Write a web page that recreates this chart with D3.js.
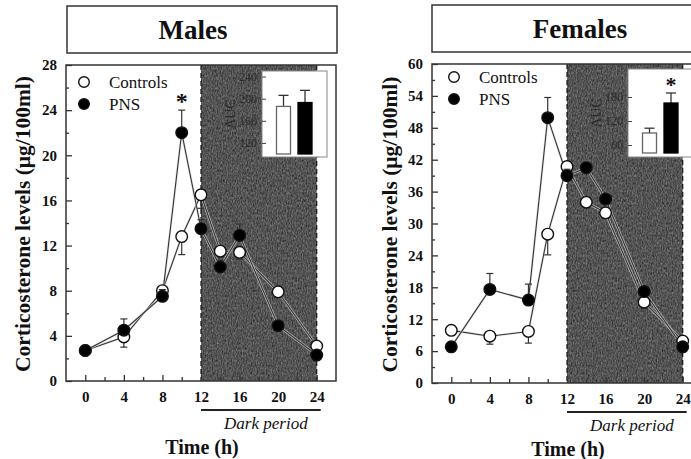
<!DOCTYPE html>
<html>
<head>
<meta charset="utf-8">
<script src="https://cdn.jsdelivr.net/npm/d3@7"></script>
<style>
  html, body { margin: 0; padding: 0; background: #fff; }
  svg { display: block; }
</style>
</head>
<body>
<svg id="chart" width="691" height="459"></svg>
<script>
// Sampling times (hours after lights on)
const hours = [0, 4, 8, 10, 12, 14, 16, 20, 24];

// Males: mean corticosterone (µg/100ml) and SEM
const maleControls    = [2.7, 3.9, 8.0, 12.8, 16.5, 11.5, 11.4, 7.9, 3.1];
const maleControlsSem = [0.4, 0.9, 0.5, 1.6, 1.2, 0.5, 0.6, 0.4, 0.3];
const malePNS         = [2.7, 4.5, 7.5, 22.0, 13.5, 10.1, 12.9, 4.9, 2.3];
const malePNSSem      = [0.3, 1.0, 0.6, 2.0, 0.8, 0.6, 1.0, 0.4, 0.3];

// Females: mean corticosterone (µg/100ml) and SEM
const femaleControls    = [9.9, 8.8, 9.7, 28.0, 40.7, 34.0, 32.0, 15.2, 7.9];
const femaleControlsSem = [0.8, 1.5, 2.2, 3.9, 1.5, 1.0, 1.0, 1.2, 0.6];
const femalePNS         = [6.8, 17.6, 15.6, 49.9, 39.0, 40.5, 34.6, 17.2, 6.8];
const femalePNSSem      = [0.5, 3.0, 3.0, 3.8, 1.2, 1.0, 1.0, 0.8, 0.5];

// Area under the curve during the dark period (inset bars)
const aucGroups     = ["Controls", "PNS"];
const maleAUC       = [186, 193];
const maleAUCSem    = [20, 22];
const femaleAUC     = [90, 165];
const femaleAUCSem  = [12, 25];

// Tick labels
const xMajorTicks       = [0, 4, 8, 12, 16, 20, 24];
const xMinorTicks       = [2, 6, 10, 14, 18, 22];
const maleYTicks        = [0, 4, 8, 12, 16, 20, 24, 28];
const maleYMinor        = [2, 6, 10, 14, 18, 22, 26];
const femaleYTicks      = [0, 6, 12, 18, 24, 30, 36, 42, 48, 54, 60];
const femaleYMinor      = [3, 9, 15, 21, 27, 33, 39, 45, 51, 57];
const maleInsetTicks    = [120, 160, 200, 240];
const femaleInsetTicks  = [60, 120, 180];

const darkStart = 12, darkEnd = 24;
const SERIF = "'Liberation Serif', 'DejaVu Serif', serif";

const svg = d3.select("#chart").attr("font-family", SERIF);

// Grainy texture for the dark-period shading
const defs = svg.append("defs");
const grain = defs.append("filter").attr("id", "grain")
  .attr("x", 0).attr("y", 0).attr("width", 1).attr("height", 1)
  .attr("color-interpolation-filters", "sRGB");
grain.append("feTurbulence").attr("type", "fractalNoise")
  .attr("baseFrequency", "0.8 0.4").attr("numOctaves", 2).attr("seed", 7).attr("result", "noise");
grain.append("feColorMatrix").attr("in", "noise").attr("type", "saturate").attr("values", 0).attr("result", "grey");
const ct = grain.append("feComponentTransfer").attr("in", "grey").attr("result", "tone");
["feFuncR", "feFuncG", "feFuncB"].forEach(f =>
  ct.append(f).attr("type", "linear").attr("slope", 0.6).attr("intercept", 0.03));
ct.append("feFuncA").attr("type", "table").attr("tableValues", "1 1");
grain.append("feComposite").attr("in", "tone").attr("in2", "SourceGraphic").attr("operator", "in");

function txt(sel) {
  return sel.style("font-family", SERIF).style("fill", "#111");
}

function drawPanel(cfg) {
  const g = svg.append("g");
  const { frame } = cfg;

  const x = d3.scaleLinear().domain([-2, 26]).range([frame.left, frame.right]);
  const y = d3.scaleLinear().domain([0, cfg.yMax]).range([frame.bottom, frame.top]);

  // Title box
  g.append("rect")
    .attr("x", cfg.titleBox.x).attr("y", cfg.titleBox.y)
    .attr("width", cfg.titleBox.w).attr("height", cfg.titleBox.h)
    .attr("fill", "#fff").attr("stroke", "#333").attr("stroke-width", 1.5);
  txt(g.append("text"))
    .attr("x", cfg.titleX).attr("y", cfg.titleBox.y + cfg.titleBox.h / 2 + 9)
    .attr("text-anchor", "middle")
    .style("font-size", "27px").style("font-weight", "bold")
    .text(cfg.title);

  // Dark period shading
  const dark = g.append("g");
  dark.append("rect")
    .attr("x", x(darkStart)).attr("y", frame.top)
    .attr("width", x(darkEnd) - x(darkStart)).attr("height", frame.bottom - frame.top)
    .attr("fill", "#444").attr("filter", "url(#grain)");
  [darkStart, darkEnd].forEach(h => {
    dark.append("line")
      .attr("x1", x(h)).attr("x2", x(h)).attr("y1", frame.top).attr("y2", frame.bottom)
      .attr("stroke", "#111").attr("stroke-width", 1.2).attr("stroke-dasharray", "5,3");
  });

  // Inset: AUC bars
  const ib = cfg.inset;
  const iy = d3.scaleLinear().domain(ib.domain).range([ib.bottom, ib.top]);
  const ix = d3.scalePoint().domain(aucGroups).range([ib.x + 21.5, ib.x + 43]);
  const inset = g.append("g");
  inset.append("rect")
    .attr("x", ib.x).attr("y", ib.top)
    .attr("width", ib.w).attr("height", ib.boxBottom - ib.top)
    .attr("fill", "#fff").attr("stroke", "#888").attr("stroke-width", 1);
  const iaxis = inset.append("g").attr("transform", `translate(${ib.x},0)`)
    .call(d3.axisLeft(iy).tickValues(ib.ticks).tickSize(-4).tickPadding(5));
  iaxis.select(".domain").remove();
  iaxis.selectAll(".tick line").attr("stroke", "#444");
  iaxis.selectAll("text").style("font-size", "12px").style("fill", "#2a2a2a")
    .style("font-family", SERIF);
  inset.append("text")
    .attr("transform", `translate(${ib.x - 32},${(ib.top + ib.boxBottom) / 2}) rotate(-90)`)
    .attr("text-anchor", "middle").attr("dy", "0.35em")
    .style("font-family", SERIF).style("font-size", "14px").style("fill", "#2a2a2a")
    .text("AUC");
  const base = iy(ib.domain[0]);
  ib.values.forEach((v, i) => {
    const cx = ix(aucGroups[i]);
    const top = iy(v), errTop = iy(v + ib.sem[i]);
    inset.append("line").attr("x1", cx).attr("x2", cx).attr("y1", top).attr("y2", errTop)
      .attr("stroke", "#333").attr("stroke-width", 1.3);
    inset.append("line").attr("x1", cx - 5).attr("x2", cx + 5).attr("y1", errTop).attr("y2", errTop)
      .attr("stroke", "#333").attr("stroke-width", 1.3);
    inset.append("rect")
      .attr("x", cx - 7).attr("y", top).attr("width", 14).attr("height", base - top)
      .attr("fill", i === 0 ? "#fff" : "#000")
      .attr("stroke", i === 0 ? "#666" : "#000").attr("stroke-width", 1.3);
  });
  if (ib.star) {
    const cx = ix(aucGroups[1]);
    txt(inset.append("text"))
      .attr("x", cx).attr("y", iy(ib.values[1] + ib.sem[1]) - 1)
      .attr("text-anchor", "middle")
      .style("font-size", "22px").style("font-weight", "bold")
      .text("*");
  }

  // Frame
  g.append("rect")
    .attr("x", frame.left).attr("y", frame.top)
    .attr("width", frame.right - frame.left).attr("height", frame.bottom - frame.top)
    .attr("fill", "none").attr("stroke", "#333").attr("stroke-width", 1.5);

  // Axes (ticks pointing inward)
  const yAxis = g.append("g").attr("transform", `translate(${frame.left},0)`)
    .call(d3.axisLeft(y).tickValues(cfg.yTicks).tickSize(-6).tickPadding(9));
  const yMinor = g.append("g").attr("transform", `translate(${frame.left},0)`)
    .call(d3.axisLeft(y).tickValues(cfg.yMinor).tickSize(-3).tickFormat(""));
  const xAxis = g.append("g").attr("transform", `translate(0,${frame.bottom})`)
    .call(d3.axisBottom(x).tickValues(xMajorTicks).tickSize(-6).tickPadding(10));
  const xMinor = g.append("g").attr("transform", `translate(0,${frame.bottom})`)
    .call(d3.axisBottom(x).tickValues(xMinorTicks).tickSize(-4).tickFormat(""));
  [yAxis, yMinor, xAxis, xMinor].forEach(a => {
    a.attr("font-family", SERIF);
    a.select(".domain").remove();
    a.selectAll(".tick line").attr("stroke", "#333").attr("stroke-width", 1.3);
    a.selectAll("text")
      .style("font-family", SERIF)
      .style("font-weight", "bold").style("font-size", "15px").style("fill", "#111");
  });

  // Y axis title
  txt(g.append("text"))
    .attr("transform", `translate(${cfg.yLabelX},${(frame.top + frame.bottom) / 2 + 1}) rotate(-90)`)
    .attr("text-anchor", "middle").attr("dy", "0.35em")
    .style("font-size", "21.5px").style("font-weight", "bold")
    .text("Corticosterone levels (\u03bcg/100ml)");

  // Dark period bar and label
  g.append("line")
    .attr("x1", x(darkStart)).attr("x2", x(darkEnd) + 4)
    .attr("y1", frame.bottom + 29).attr("y2", frame.bottom + 29)
    .attr("stroke", "#222").attr("stroke-width", 2);
  txt(g.append("text"))
    .attr("x", (x(darkStart) + x(darkEnd)) / 2 + 7).attr("y", frame.bottom + 48)
    .attr("text-anchor", "middle")
    .style("font-size", "17px").style("font-style", "italic")
    .text("Dark period");

  // X axis title
  txt(g.append("text"))
    .attr("x", (frame.left + frame.right) / 2 + 1).attr("y", frame.bottom + 73)
    .attr("text-anchor", "middle")
    .style("font-size", "20px").style("font-weight", "bold")
    .text("Time (h)");

  // Series: controls (open, error bars downward) then PNS (filled, error bars upward)
  const series = [
    { values: cfg.controls, sem: cfg.controlsSem, fill: "#fff", dir: -1 },
    { values: cfg.pns, sem: cfg.pnsSem, fill: "#000", dir: 1 }
  ];
  const line = d3.line().x(d => x(d[0])).y(d => y(d[1]));
  series.forEach(s => {
    const pts = hours.map((h, i) => [h, s.values[i], s.sem[i]]);
    // light halo keeps the connecting lines readable over the shading
    g.append("path").datum(pts).attr("d", line)
      .attr("fill", "none").attr("stroke", "#ddd").attr("stroke-width", 2.6).attr("stroke-opacity", 0.7);
    g.append("path").datum(pts).attr("d", line)
      .attr("fill", "none").attr("stroke", "#333").attr("stroke-width", 1.1);
  });
  series.forEach(s => {
    const pts = hours.map((h, i) => [h, s.values[i], s.sem[i]]);
    const eg = g.append("g");
    pts.forEach(p => {
      const y0 = y(p[1]), y1 = y(p[1] + s.dir * p[2]);
      eg.append("line").attr("x1", x(p[0])).attr("x2", x(p[0])).attr("y1", y0).attr("y2", y1)
        .attr("stroke", "#333").attr("stroke-width", 1.2);
      eg.append("line").attr("x1", x(p[0]) - 3.5).attr("x2", x(p[0]) + 3.5).attr("y1", y1).attr("y2", y1)
        .attr("stroke", "#333").attr("stroke-width", 1.2);
    });
    eg.selectAll("circle").data(pts).join("circle")
      .attr("cx", d => x(d[0])).attr("cy", d => y(d[1])).attr("r", 5.8)
      .attr("fill", s.fill).attr("stroke", "#111").attr("stroke-width", 1.4);
  });

  // Significance marker on the main plot
  if (cfg.peakStarHour !== undefined) {
    const i = hours.indexOf(cfg.peakStarHour);
    txt(g.append("text"))
      .attr("x", x(cfg.peakStarHour)).attr("y", y(cfg.pns[i] + cfg.pnsSem[i]) - 1)
      .attr("text-anchor", "middle")
      .style("font-size", "24px").style("font-weight", "bold")
      .text("*");
  }

  // Legend
  const lg = g.append("g").attr("transform", `translate(${cfg.legend.x},${cfg.legend.y})`);
  [["Controls", "#fff"], ["PNS", "#000"]].forEach((d, i) => {
    lg.append("circle").attr("cx", 0).attr("cy", i * 22).attr("r", 5.3)
      .attr("fill", d[1]).attr("stroke", "#111").attr("stroke-width", 1.4);
    txt(lg.append("text")).attr("x", 25).attr("y", i * 22).attr("dy", "0.35em")
      .style("font-size", "17px").text(d[0]);
  });
}

drawPanel({
  title: "Males", titleX: 193,
  titleBox: { x: 67, y: 6, w: 270, h: 47 },
  frame: { left: 66, right: 336, top: 65, bottom: 381 },
  yMax: 28, yTicks: maleYTicks, yMinor: maleYMinor, yLabelX: 22,
  controls: maleControls, controlsSem: maleControlsSem,
  pns: malePNS, pnsSem: malePNSSem,
  peakStarHour: 10,
  legend: { x: 84, y: 82 },
  inset: { x: 262, w: 65, top: 71, bottom: 154, boxBottom: 157,
           domain: [100, 250], ticks: maleInsetTicks,
           values: maleAUC, sem: maleAUCSem, star: false }
});

drawPanel({
  title: "Females", titleX: 580,
  titleBox: { x: 432, y: 5, w: 275, h: 47 },
  frame: { left: 432, right: 702, top: 64, bottom: 383 },
  yMax: 60, yTicks: femaleYTicks, yMinor: femaleYMinor, yLabelX: 389,
  controls: femaleControls, controlsSem: femaleControlsSem,
  pns: femalePNS, pnsSem: femalePNSSem,
  legend: { x: 454, y: 77 },
  inset: { x: 628, w: 75, top: 69, bottom: 153, boxBottom: 157,
           domain: [40, 250], ticks: femaleInsetTicks,
           values: femaleAUC, sem: femaleAUCSem, star: true }
});
</script>
</body>
</html>
